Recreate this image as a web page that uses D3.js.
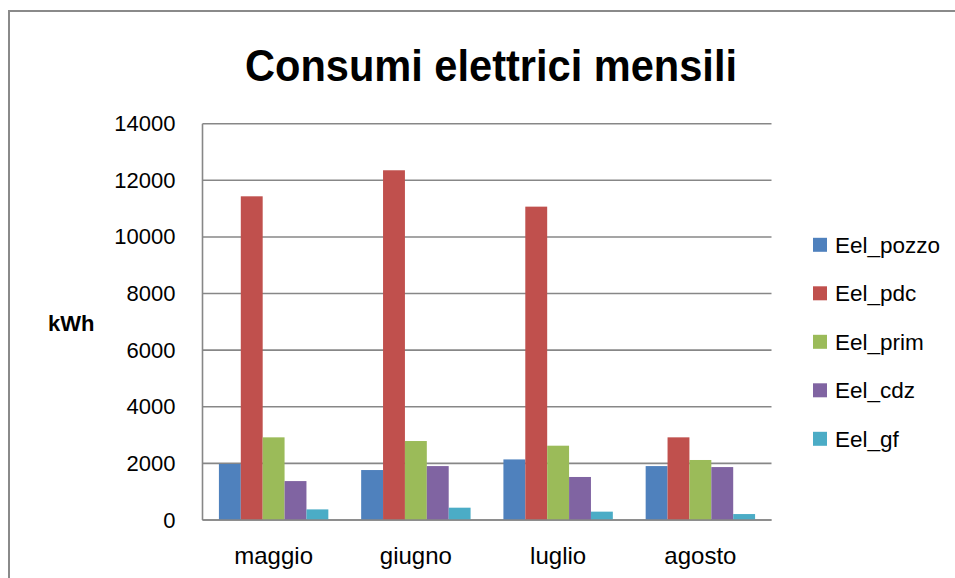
<!DOCTYPE html>
<html>
<head>
<meta charset="utf-8">
<script src="https://cdn.jsdelivr.net/npm/d3@7"></script>
<style>
  html, body { margin: 0; padding: 0; background: #fff; }
  svg { display: block; font-family: "Liberation Sans", Arial, sans-serif; }
</style>
</head>
<body>
<svg id="chart" width="955" height="578"></svg>
<script>
// Monthly electricity consumption (kWh) by component
const months = ["maggio", "giugno", "luglio", "agosto"];
const seriesNames = ["Eel_pozzo", "Eel_pdc", "Eel_prim", "Eel_cdz", "Eel_gf"];
const eelPozzo = [1980, 1765, 2140, 1905];
const eelPdc   = [11435, 12355, 11070, 2920];
const eelPrim  = [2920, 2790, 2625, 2120];
const eelCdz   = [1375, 1905, 1520, 1870];
const eelGf    = [375, 435, 295, 210];
const yTicks = [0, 2000, 4000, 6000, 8000, 10000, 12000, 14000];
const colors = ["#4F81BD", "#C0504D", "#9BBB59", "#8064A2", "#4BACC6"];

const seriesValues = [eelPozzo, eelPdc, eelPrim, eelCdz, eelGf];

const svg = d3.select("#chart");

// chart frame
svg.append("rect")
  .attr("x", 9).attr("y", 11)
  .attr("width", 1200).attr("height", 1000)
  .attr("fill", "none")
  .attr("stroke", "#8a8a8a")
  .attr("stroke-width", 2);

// title
svg.append("text")
  .attr("x", 491).attr("y", 81)
  .attr("text-anchor", "middle")
  .attr("font-size", 45)
  .attr("font-weight", "bold")
  .attr("textLength", 492)
  .attr("lengthAdjust", "spacingAndGlyphs")
  .attr("fill", "#000")
  .text("Consumi elettrici mensili");

const plot = { left: 202.5, right: 771.5, top: 123.7, bottom: 520 };

const x0 = d3.scaleBand()
  .domain(months)
  .range([plot.left, plot.right])
  .paddingInner(1.5 / 6.5)
  .paddingOuter(0.75 / 6.5);

const x1 = d3.scaleBand()
  .domain(seriesNames)
  .range([0, x0.bandwidth()]);

const y = d3.scaleLinear()
  .domain([0, 14000])
  .range([plot.bottom, plot.top]);

// value axis labels
const yAxis = d3.axisLeft(y).tickValues(yTicks).tickFormat(d3.format("d"))
  .tickSize(0).tickPadding(27);
const gy = svg.append("g")
  .attr("transform", `translate(${plot.left},0)`)
  .call(yAxis);
gy.select(".domain").remove();
gy.selectAll("text")
  .attr("font-size", 22)
  .attr("fill", "#000")
  .attr("font-family", "Liberation Sans, Arial, sans-serif");

// horizontal gridlines
svg.append("g")
  .selectAll("line")
  .data(yTicks)
  .join("line")
  .attr("x1", plot.left).attr("x2", plot.right)
  .attr("y1", d => y(d)).attr("y2", d => y(d))
  .attr("stroke", "#878787")
  .attr("stroke-width", 1.6);

// vertical axis line
svg.append("line")
  .attr("x1", plot.left).attr("x2", plot.left)
  .attr("y1", plot.top).attr("y2", plot.bottom)
  .attr("stroke", "#878787")
  .attr("stroke-width", 1.6);

// bars
const groups = svg.append("g")
  .selectAll("g")
  .data(months)
  .join("g")
  .attr("transform", d => `translate(${x0(d)},0)`);

groups.selectAll("rect")
  .data((m, i) => seriesNames.map((s, j) => ({ s, v: seriesValues[j][i], c: colors[j] })))
  .join("rect")
  .attr("x", d => x1(d.s))
  .attr("width", x1.bandwidth())
  .attr("y", d => y(d.v))
  .attr("height", d => y(0) - y(d.v))
  .attr("fill", d => d.c);

// baseline drawn over the bars
svg.append("line")
  .attr("x1", plot.left).attr("x2", plot.right)
  .attr("y1", y(0)).attr("y2", y(0))
  .attr("stroke", "#878787")
  .attr("stroke-width", 1.6);

// category axis labels
const xAxis = d3.axisBottom(x0).tickSize(0).tickPadding(27);
const gx = svg.append("g")
  .attr("transform", `translate(0,${plot.bottom})`)
  .call(xAxis);
gx.select(".domain").remove();
gx.selectAll("text")
  .attr("font-size", 24)
  .attr("fill", "#000")
  .attr("font-family", "Liberation Sans, Arial, sans-serif");

// y-axis unit
svg.append("text")
  .attr("x", 48).attr("y", 331)
  .attr("font-size", 22)
  .attr("font-weight", "bold")
  .attr("fill", "#000")
  .text("kWh");

// legend
const legend = svg.append("g")
  .selectAll("g")
  .data(seriesNames)
  .join("g")
  .attr("transform", (d, i) => `translate(813,${244.8 + i * 48.5})`);

legend.append("rect")
  .attr("x", 0).attr("y", -7)
  .attr("width", 14).attr("height", 14)
  .attr("fill", (d, i) => colors[i]);

legend.append("text")
  .attr("x", 22).attr("y", 8)
  .attr("font-size", 22.5)
  .attr("fill", "#000")
  .text(d => d);
</script>
</body>
</html>
